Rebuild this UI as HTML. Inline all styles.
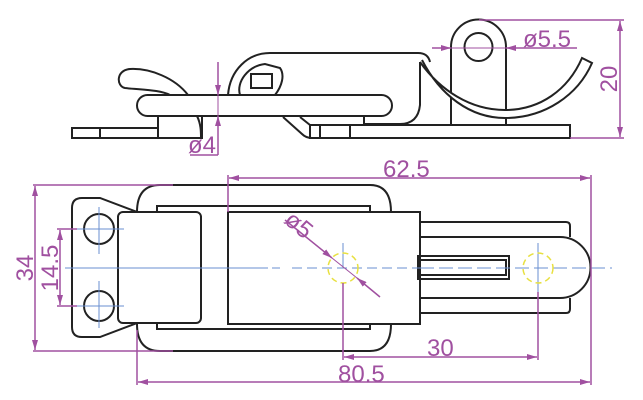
<!DOCTYPE html>
<html><head><meta charset="utf-8"><style>html,body{margin:0;padding:0;background:#fff}svg{display:block}</style></head>
<body>
<svg width="643" height="400" viewBox="0 0 643 400" xmlns="http://www.w3.org/2000/svg">
<defs>
<marker id="a" viewBox="0 0 10 6" refX="10" refY="3" markerWidth="10" markerHeight="6" markerUnits="userSpaceOnUse" orient="auto"><path d="M0,0L10,3L0,6z" fill="#a050a0"/></marker>
</defs>
<g fill="none" stroke="#222" stroke-width="2">
<rect x="72" y="128" width="130" height="10"/>
<line x1="100" y1="128" x2="100" y2="138"/>
<rect x="158" y="116" width="44" height="22" fill="#fff"/>
<path d="M197,116 C201,124 201,132 201,138"/>
<path d="M188,95 C175,78 150,68 130,69 C116,70 116,86 125,88 C145,90 160,90 170,95"/>
<path d="M228,95 C230,70 248,53 270,53 L418,53 Q428,53 430,62"/>
<path d="M240,95 C236,82 248,66 265,64 L280,68 C285,75 282,86 275,95"/>
<rect x="251" y="74" width="21" height="14"/>
<path d="M283,117 L302,134 Q306,138 312,138"/>
<path d="M300,117 L310,125"/>
<path d="M420,62 L420,105 Q418,124 400,124 L364,124 L364,116"/>
<rect x="310" y="125" width="260" height="13"/>
<line x1="320" y1="125" x2="320" y2="138"/>
<line x1="350" y1="125" x2="350" y2="138"/>
<path d="M451,125 L451,47 A27.5,27.5 0 0 1 506,47 L506,125"/>
<circle cx="478.5" cy="47" r="14"/>
<path d="M422,60 C440,95 470,118 505,118 C545,118 578,95 592,63 L582,58 C568,90 540,110 505,110 C470,110 440,90 420,62" fill="#fff"/>
<rect x="137" y="95" width="255" height="21" rx="10.5" fill="#fff"/>

<path d="M137,212 Q137,185 160,185 L370,185 Q391,185 391,212"/>
<path d="M137,324 Q137,351 160,351 L370,351 Q391,351 391,324"/>
<rect x="157" y="206" width="213" height="123"/>
<path d="M100,198 L82,198 Q72,198 72,208 L72,327 Q72,337 82,337 L100,337 L137,323 L137,212 Z"/>
<rect x="118" y="212" width="83" height="111" rx="5" fill="#fff"/>
<circle cx="99" cy="229" r="15"/>
<circle cx="99" cy="306" r="15"/>
<rect x="228" y="212" width="192" height="112" fill="#fff"/>
<path d="M420,222 L566,222 Q570,222 570,226 L570,237"/>
<path d="M420,237 L560,237 A30.5,30.5 0 0 1 560,298 L420,298"/>
<path d="M420,313 L566,313 Q570,313 570,309 L570,298"/>
<rect x="418" y="256" width="91" height="23"/>
<rect x="420" y="260" width="86" height="15"/>
</g>
<g stroke="#6a8fd0" stroke-width="1" fill="none">
<line x1="65" y1="268" x2="268" y2="268"/>
<line x1="272" y1="268" x2="280" y2="268"/>
<line x1="292" y1="268" x2="420" y2="268" stroke-dasharray="10 5"/>
<line x1="420" y1="268" x2="612" y2="268" stroke-dasharray="14 5"/>
<line x1="77" y1="229" x2="124" y2="229"/><line x1="99" y1="207" x2="99" y2="254"/>
<line x1="77" y1="306" x2="124" y2="306"/><line x1="99" y1="281" x2="99" y2="328"/>
<line x1="343" y1="243" x2="343" y2="268"/>
<line x1="538" y1="243" x2="538" y2="292"/>
</g>
<g stroke="#e8e040" stroke-width="1.5" fill="none" stroke-dasharray="6 4">
<circle cx="343" cy="268" r="15"/><circle cx="538" cy="268" r="15"/>
</g>
<g stroke="#a050a0" stroke-width="1.5" fill="none">
<line x1="218" y1="62" x2="218" y2="95" marker-end="url(#a)"/>
<line x1="218" y1="155" x2="218" y2="116" marker-end="url(#a)"/>
<line x1="218" y1="95" x2="218" y2="116" stroke-width="1"/>
<line x1="190" y1="155" x2="218" y2="155"/>
<line x1="432" y1="48" x2="451" y2="48" marker-end="url(#a)"/>
<line x1="577" y1="48" x2="506" y2="48" marker-end="url(#a)"/>
<line x1="451" y1="48" x2="506" y2="48" stroke-width="1"/>
<line x1="479" y1="20" x2="624" y2="20"/>
<line x1="570" y1="138" x2="624" y2="138"/>
<line x1="620" y1="79" x2="620" y2="21" marker-end="url(#a)"/>
<line x1="620" y1="79" x2="620" y2="137" marker-end="url(#a)"/>
<line x1="33" y1="185" x2="173" y2="185"/>
<line x1="33" y1="351" x2="173" y2="351"/>
<line x1="35" y1="268" x2="35" y2="186" marker-end="url(#a)"/>
<line x1="35" y1="268" x2="35" y2="350" marker-end="url(#a)"/>
<line x1="57" y1="229" x2="77" y2="229"/>
<line x1="57" y1="306" x2="77" y2="306"/>
<line x1="60" y1="268" x2="60" y2="230" marker-end="url(#a)"/>
<line x1="60" y1="268" x2="60" y2="305" marker-end="url(#a)"/>
<line x1="228" y1="175" x2="228" y2="212"/>
<line x1="591" y1="175" x2="591" y2="385"/>
<line x1="410" y1="178" x2="229" y2="178" marker-end="url(#a)"/>
<line x1="410" y1="178" x2="590" y2="178" marker-end="url(#a)"/>
<line x1="137" y1="330" x2="137" y2="385"/>
<line x1="360" y1="382" x2="138" y2="382" marker-end="url(#a)"/>
<line x1="360" y1="382" x2="590" y2="382" marker-end="url(#a)"/>
<line x1="343" y1="283" x2="343" y2="360"/>
<line x1="538" y1="292" x2="538" y2="360"/>
<line x1="440" y1="357" x2="344" y2="357" marker-end="url(#a)"/>
<line x1="440" y1="357" x2="537" y2="357" marker-end="url(#a)"/>
<line x1="285" y1="220" x2="332" y2="258" marker-end="url(#a)"/>
<line x1="380" y1="297" x2="357" y2="278" marker-end="url(#a)"/>
<line x1="332" y1="258" x2="357" y2="278" stroke-width="1"/>
</g>
<g fill="#a050a0" font-family="Liberation Sans, sans-serif" font-size="24">
<text x="188" y="153">ø4</text>
<text x="523" y="47">ø5.5</text>
<text x="383" y="177">62.5</text>
<text x="427" y="356">30</text>
<text x="338" y="382">80.5</text>
<text transform="translate(617,79) rotate(-90)" text-anchor="middle">20</text>
<text transform="translate(33,268) rotate(-90)" text-anchor="middle">34</text>
<text transform="translate(58,268) rotate(-90)" text-anchor="middle">14.5</text>
<text transform="translate(283,222) rotate(40)">ø5</text>
</g>
</svg>
</body></html>
